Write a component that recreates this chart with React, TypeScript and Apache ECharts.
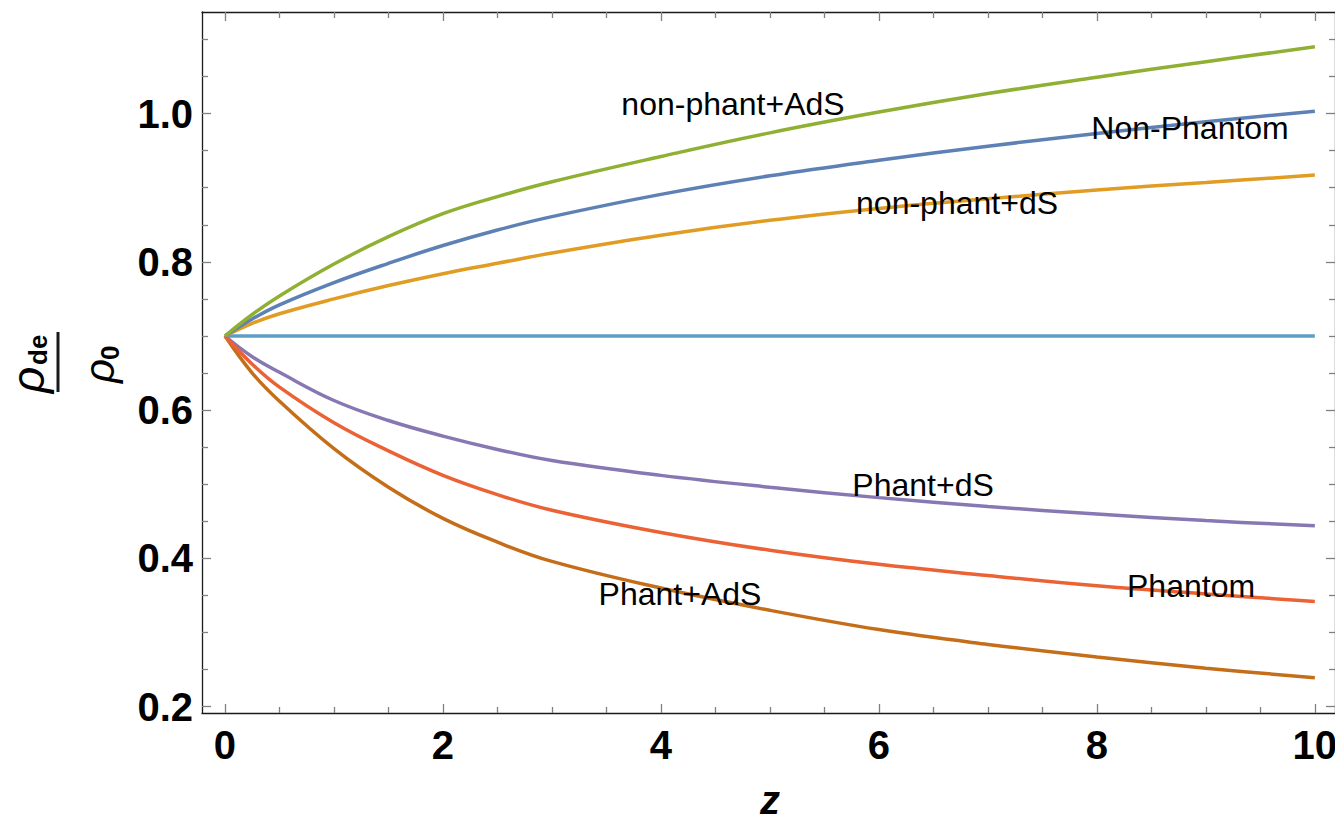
import React, { useEffect, useRef } from "react";
import * as echarts from "echarts";

// redshift samples
const zValues = [0, 0.25, 0.5, 1, 1.5, 2, 2.5, 3, 4, 5, 6, 7, 8, 9, 10];

// rho_de / rho_0 curves
const nonPhantAdS = [0.700, 0.729, 0.754, 0.797, 0.834, 0.865, 0.888, 0.908, 0.942, 0.974, 1.002, 1.027, 1.049, 1.070, 1.090];
const nonPhantom = [0.700, 0.723, 0.742, 0.772, 0.798, 0.822, 0.843, 0.861, 0.891, 0.916, 0.937, 0.956, 0.973, 0.989, 1.003];
const nonPhantDS = [0.700, 0.717, 0.730, 0.750, 0.768, 0.784, 0.798, 0.812, 0.836, 0.856, 0.872, 0.885, 0.897, 0.907, 0.917];
const cosmoConst = [0.700, 0.700, 0.700, 0.700, 0.700, 0.700, 0.700, 0.700, 0.700, 0.700, 0.700, 0.700, 0.700, 0.700, 0.700];
const phantDS = [0.700, 0.672, 0.651, 0.613, 0.586, 0.565, 0.547, 0.532, 0.512, 0.496, 0.482, 0.470, 0.460, 0.451, 0.444];
const phantom = [0.700, 0.662, 0.631, 0.583, 0.545, 0.512, 0.486, 0.465, 0.435, 0.411, 0.392, 0.377, 0.363, 0.352, 0.342];
const phantAdS = [0.700, 0.650, 0.612, 0.548, 0.496, 0.454, 0.422, 0.396, 0.360, 0.330, 0.304, 0.284, 0.267, 0.252, 0.239];

// ticks
const xMajorTicks = [0, 2, 4, 6, 8, 10];
const xMinorTicks = [0.5, 1, 1.5, 2.5, 3, 3.5, 4.5, 5, 5.5, 6.5, 7, 7.5, 8.5, 9, 9.5];
const yMajorTicks = [0.2, 0.4, 0.6, 0.8, 1.0];
const yMinorTicks = [0.25, 0.3, 0.35, 0.45, 0.5, 0.55, 0.65, 0.7, 0.75, 0.85, 0.9, 0.95, 1.05, 1.1];

// curve labels: [text, z, rho]
const curveLabels: [string, number, number][] = [
  ["non-phant+AdS", 4.661, 1.0131],
  ["Non-Phantom", 8.855, 0.9807],
  ["non-phant+dS", 6.717, 0.8800],
  ["Phant+dS", 6.405, 0.4985],
  ["Phantom", 8.864, 0.3625],
  ["Phant+AdS", 4.175, 0.3520],
];

const X_MIN = -0.211;
const X_MAX = 10.185;
const Y_MIN = 0.1915;
const Y_MAX = 1.137;

const FONT = "'Liberation Sans', Arial, Helvetica, sans-serif";

function makeAxis(kind: "x" | "y", position: string, major: boolean, withLabels: boolean, withLine: boolean) {
  const isX = kind === "x";
  const ticks = major ? (isX ? xMajorTicks : yMajorTicks) : isX ? xMinorTicks : yMinorTicks;
  return {
    type: "value",
    position,
    min: isX ? X_MIN : Y_MIN,
    max: isX ? X_MAX : Y_MAX,
    axisLine: {
      show: withLine,
      onZero: false,
      lineStyle: { color: "#1a1a1a", width: 1.3 },
    },
    axisTick: {
      show: true,
      inside: true,
      length: major ? 9 : 6,
      customValues: ticks,
      lineStyle: { color: "#808080", width: 1.3 },
    },
    axisLabel: withLabels
      ? {
          show: true,
          customValues: ticks,
          formatter: (v: number) => (isX ? String(Math.round(v)) : v.toFixed(1)),
          margin: isX ? 12 : 9,
          fontSize: 40,
          fontWeight: "bold",
          color: "#000",
          fontFamily: FONT,
        }
      : { show: false },
    splitLine: { show: false },
    minorTick: { show: false },
  };
}

export default function App() {
  const ref = useRef<HTMLDivElement>(null);

  useEffect(() => {
    document.body.style.margin = "0";
    if (!ref.current) return;
    const chart = echarts.init(ref.current, null, { renderer: "svg" });

    const mk = (name: string, vals: number[], color: string) => ({
      name,
      type: "line",
      xAxisIndex: 0,
      yAxisIndex: 0,
      data: zValues.map((z, i) => [z, vals[i]]),
      smooth: 0.4,
      showSymbol: false,
      symbol: "none",
      lineStyle: { color, width: 3.5 },
      itemStyle: { color },
      z: 3,
    });

    chart.setOption({
      animation: false,
      grid: { left: 202, right: 0, top: 12, bottom: 107, containLabel: false, outerBoundsMode: "none" },
      xAxis: [
        makeAxis("x", "bottom", true, true, true),
        makeAxis("x", "bottom", false, false, false),
        makeAxis("x", "top", true, false, true),
        makeAxis("x", "top", false, false, false),
      ],
      yAxis: [
        makeAxis("y", "left", true, true, true),
        makeAxis("y", "left", false, false, false),
        makeAxis("y", "right", true, false, true),
        makeAxis("y", "right", false, false, false),
      ],
      series: [
        mk("cosmological constant", cosmoConst, "#5D9EC7"),
        mk("Phant+AdS", phantAdS, "#C56E1A"),
        mk("Phant+dS", phantDS, "#8778B3"),
        mk("Phantom", phantom, "#EB6235"),
        mk("non-phant+dS", nonPhantDS, "#E19C24"),
        mk("Non-Phantom", nonPhantom, "#5E81B5"),
        mk("non-phant+AdS", nonPhantAdS, "#8FB032"),
      ],
    });

    const labelEls = curveLabels.map(([t, z, r]) => {
      const p = chart.convertToPixel({ xAxisIndex: 0, yAxisIndex: 0 }, [z, r]) as number[];
      return {
        type: "text",
        x: p[0],
        y: p[1],
        z: 10,
        style: {
          text: t,
          fill: "#000",
          font: `32px ${FONT}`,
          align: "center",
          verticalAlign: "middle",
        },
      };
    });

    chart.setOption({
      graphic: [
        ...labelEls,
        {
          type: "text",
          x: 770,
          y: 800,
          style: {
            text: "z",
            fill: "#000",
            font: `italic bold 40px ${FONT}`,
            align: "center",
            verticalAlign: "middle",
          },
        },
        {
          type: "group",
          x: 58,
          y: 362,
          rotation: Math.PI / 2,
          children: [
            {
              type: "line",
              shape: { x1: -30, y1: 0, x2: 30, y2: 0 },
              style: { stroke: "#1a1a1a", lineWidth: 3 },
            },
            {
              type: "text",
              x: -31,
              y: -30,
              style: {
                text: "ρ",
                fill: "#000",
                font: `italic 46px ${FONT}`,
                align: "left",
                verticalAlign: "middle",
              },
            },
            {
              type: "text",
              x: -3,
              y: -20,
              style: {
                text: "de",
                fill: "#000",
                font: `bold 26px ${FONT}`,
                align: "left",
                verticalAlign: "middle",
              },
            },
            {
              type: "text",
              x: -21,
              y: 41,
              style: {
                text: "ρ",
                fill: "#000",
                font: `italic 42px ${FONT}`,
                align: "left",
                verticalAlign: "middle",
              },
            },
            {
              type: "text",
              x: 2,
              y: 52,
              style: {
                text: "0",
                fill: "#000",
                font: `bold 26px ${FONT}`,
                align: "left",
                verticalAlign: "middle",
              },
            },
          ],
        },
      ],
    });

    return () => {
      chart.dispose();
    };
  }, []);

  return <div ref={ref} style={{ width: 1335, height: 820 }} />;
}
